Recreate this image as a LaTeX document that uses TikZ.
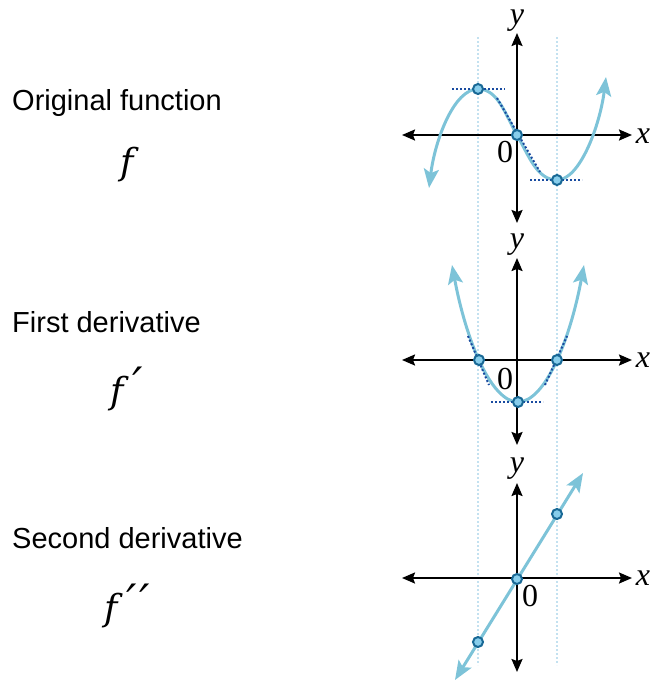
\documentclass[tikz,border=0pt]{standalone}
\usepackage{amsmath}
\usepackage{fontspec}
\setmainfont{Liberation Sans}
\newfontfamily\axisfont{Liberation Serif}
\newfontfamily\fnfont{DejaVu Serif}
\usepackage{tikz}
\usetikzlibrary{arrows.meta}
\usepackage{xcolor}

\definecolor{curveblue}{RGB}{125,195,216}
\definecolor{tangblue}{RGB}{25,75,160}
\definecolor{guideblue}{RGB}{195,225,240}
\definecolor{dotfill}{RGB}{135,205,235}
\definecolor{dotline}{RGB}{25,105,150}

\newcommand{\bigprime}{\raisebox{3pt}{\fontsize{46}{46}\selectfont ′}}

\begin{document}
\begin{tikzpicture}[x=1pt, y=-1pt,
    axis/.style={line width=2pt, {Stealth[length=13pt,width=11pt,inset=2pt]}-{Stealth[length=13pt,width=11pt,inset=2pt]}},
    curve/.style={curveblue, line width=3pt, {Stealth[length=19pt,width=15pt,inset=4pt]}-{Stealth[length=19pt,width=15pt,inset=4pt]}},
    tangline/.style={tangblue, line width=2pt, dash pattern=on 2pt off 2pt},
    guide/.style={guideblue, line width=1.5pt, dash pattern=on 2pt off 2pt},
    crit/.style={circle, draw=dotline, fill=dotfill, line width=2pt, inner sep=0pt, minimum size=10pt},
    lbl/.style={font=\axisfont\fontsize{32}{32}\selectfont, inner sep=0pt},
    rowlabel/.style={anchor=base west, inner sep=0pt, font=\fontsize{29}{30}\selectfont},
    fname/.style={inner sep=0pt, font=\fnfont\itshape\fontsize{36}{36}\selectfont}]
    \useasboundingbox (0,0) rectangle (652,683);

    % Guide lines through the critical points
    \draw[guide] (478,37) -- (478,665);
    \draw[guide] (557,37) -- (557,665);

    % Row labels
    \node[rowlabel] (orig) at (12,110.5) {Original function};
    \node[fname] (f0) at (127,165) {f};
    \node[rowlabel] (fder) at (12,332) {First derivative};
    \node[fname] (f1) at (127,389) {f\kern9pt\bigprime};
    \node[rowlabel] (sder) at (12,548) {Second derivative};
    \node[fname] (f2) at (127,606) {f\kern9pt\bigprime\kern2pt\bigprime};

    % Original function
    \draw[axis] (402,135) -- (632,135);
    \draw[axis] (517,223) -- (517,33);
    \node[lbl] (fx) at (643,136) {\itshape x};
    \node[lbl] (fy) at (517,21) {\itshape y};
    \node[lbl] (fo) at (505,152) {0};
    \coordinate (fmaxp) at (478,89);
    \coordinate (finfp) at (517,135);
    \coordinate (fminp) at (557,180);
    \draw[curve] (429,188) .. controls (435,140) and (454,89) .. (fmaxp)
        .. controls (498,89) and (505,114) .. (finfp)
        .. controls (529,156) and (537,180) .. (fminp)
        .. controls (580,180) and (600,125) .. (606,77);
    \draw[tangline] (452,89) -- (505,89);
    \draw[tangline] (530,180) -- (582,180);
    \draw[tangline] (497,98) -- (540,172);
    \node[crit] (fmax) at (fmaxp) {};
    \node[crit] (finf) at (finfp) {};
    \node[crit] (fmin) at (fminp) {};

    % First derivative
    \draw[axis] (402,360) -- (632,360);
    \draw[axis] (517,445) -- (517,258);
    \node[lbl] (gx) at (643,360) {\itshape x};
    \node[lbl] (gy) at (517,245) {\itshape y};
    \node[lbl] (go) at (505,379) {0};
    \coordinate (gz1p) at (479,360);
    \coordinate (gvertp) at (518,402);
    \coordinate (gz2p) at (557,360);
    \draw[curve] (452,265) .. controls (466,340) and (491,402) .. (gvertp)
        .. controls (545,402) and (570,340) .. (584,265);
    \draw[tangline] (491,402) -- (543,402);
    \draw[tangline] (468,336) -- (489,385);
    \draw[tangline] (545,385) -- (567,336);
    \node[crit] (gz1) at (gz1p) {};
    \node[crit] (gvert) at (gvertp) {};
    \node[crit] (gz2) at (gz2p) {};

    % Second derivative
    \draw[axis] (402,578) -- (632,578);
    \draw[axis] (517,672) -- (517,483);
    \node[lbl] (hx) at (643,578) {\itshape x};
    \node[lbl] (hy) at (517,469) {\itshape y};
    \node[lbl] (ho) at (530,596) {0};
    \draw[curve] (455,680) -- (583,473);
    \node[crit] (hz1) at (478,642) {};
    \node[crit] (horig) at (517,579) {};
    \node[crit] (hz2) at (557,514) {};
\end{tikzpicture}
\end{document}
